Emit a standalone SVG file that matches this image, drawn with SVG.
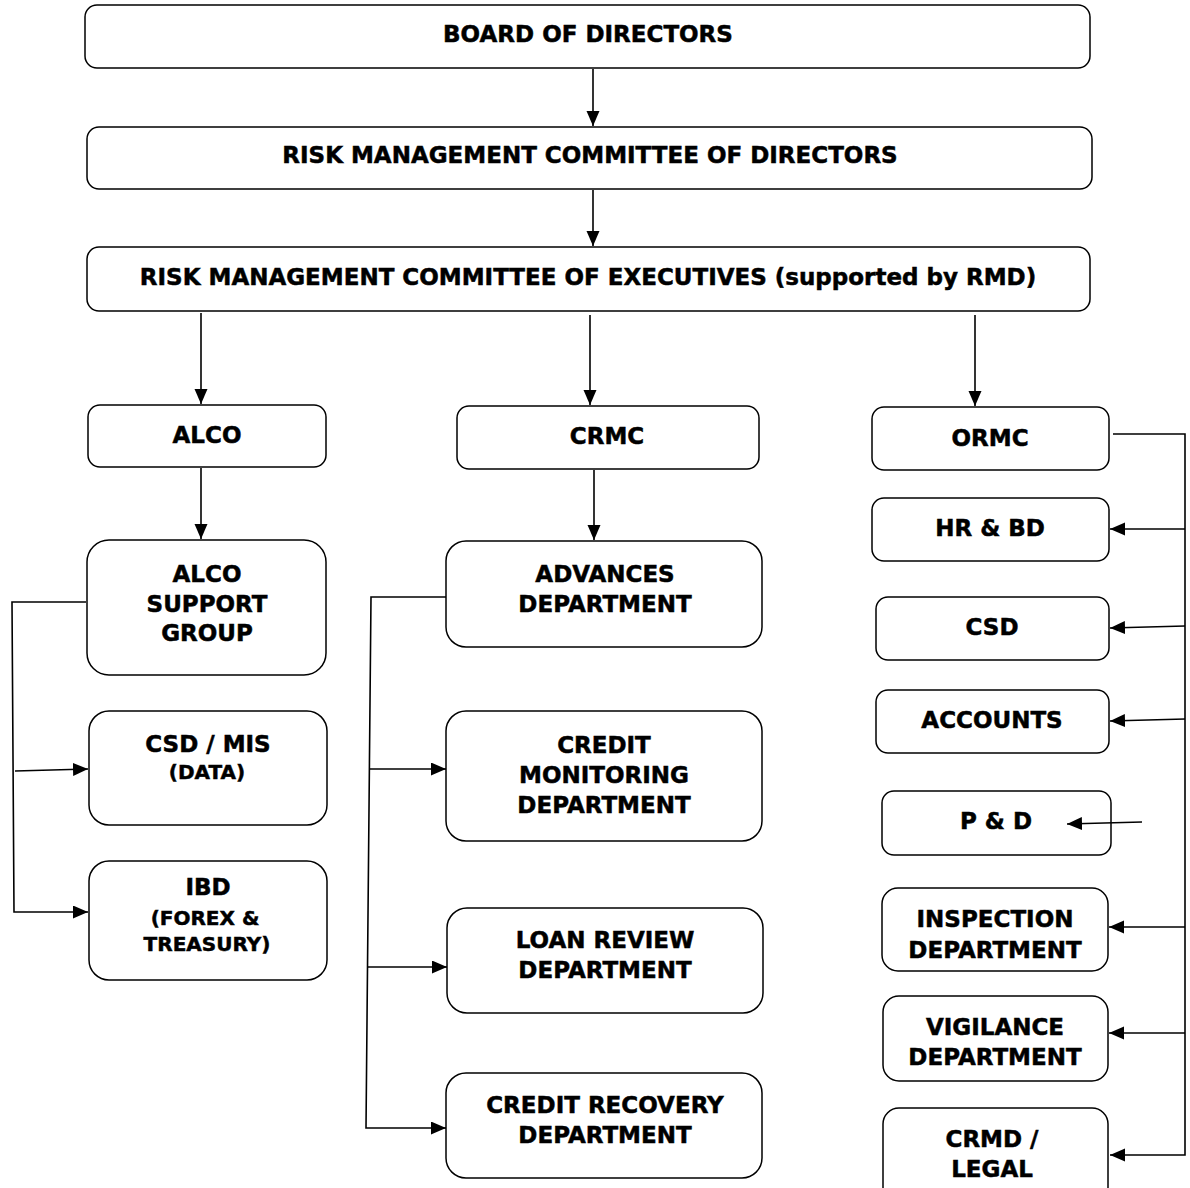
<svg xmlns="http://www.w3.org/2000/svg" width="1190" height="1188" viewBox="0 0 1190 1188">
<style>
.box{fill:#fff;stroke:#000;stroke-width:1.5}
.t{font-family:"DejaVu Sans","Verdana",sans-serif;font-weight:bold;font-size:23px;text-anchor:middle;fill:#000;stroke:#000;stroke-width:0.5}
.s{font-size:20px}
.c{fill:none;stroke:#000;stroke-width:1.6}
</style>
<defs>
<marker id="ah" markerUnits="userSpaceOnUse" markerWidth="16" markerHeight="14" refX="15" refY="6.5" orient="auto">
<path d="M0,0 L15,6.5 L0,13 z" fill="#000"/>
</marker>
</defs>
<rect width="1190" height="1188" fill="#fff"/>
<g id="board"><rect class="box" x="85" y="5" width="1005" height="63" rx="12"/><text class="t" x="588" y="42">BOARD OF DIRECTORS</text></g>
<g id="rmcd"><rect class="box" x="87" y="127" width="1005" height="62" rx="12"/><text class="t" x="590" y="163">RISK MANAGEMENT COMMITTEE OF DIRECTORS</text></g>
<g id="rmce"><rect class="box" x="87" y="247" width="1003" height="64" rx="12"/><text class="t" x="588" y="285">RISK MANAGEMENT COMMITTEE OF EXECUTIVES (supported by RMD)</text></g>
<g id="alco"><rect class="box" x="88" y="405" width="238" height="62" rx="12"/><text class="t" x="207" y="443">ALCO</text></g>
<g id="crmc"><rect class="box" x="457" y="406" width="302" height="63" rx="12"/><text class="t" x="607" y="444">CRMC</text></g>
<g id="ormc"><rect class="box" x="872" y="407" width="237" height="63" rx="12"/><text class="t" x="990" y="446">ORMC</text></g>
<g id="alcosg"><rect class="box" x="87" y="540" width="239" height="135" rx="22"/><text class="t" x="207" y="582">ALCO</text><text class="t" x="207" y="612">SUPPORT</text><text class="t" x="207" y="641">GROUP</text></g>
<g id="adv"><rect class="box" x="446" y="541" width="316" height="106" rx="20"/><text class="t" x="605" y="582">ADVANCES</text><text class="t" x="605" y="612">DEPARTMENT</text></g>
<g id="csdmis"><rect class="box" x="89" y="711" width="238" height="114" rx="20"/><text class="t" x="208" y="752">CSD / MIS</text><text class="t s" x="207" y="779">(DATA)</text></g>
<g id="ibd"><rect class="box" x="89" y="861" width="238" height="119" rx="20"/><text class="t" x="208" y="895">IBD</text><text class="t s" x="205" y="925">(FOREX &amp;</text><text class="t s" x="207" y="951">TREASURY)</text></g>
<g id="cmd"><rect class="box" x="446" y="711" width="316" height="130" rx="20"/><text class="t" x="604" y="753">CREDIT</text><text class="t" x="604" y="783">MONITORING</text><text class="t" x="604" y="813">DEPARTMENT</text></g>
<g id="lrd"><rect class="box" x="447" y="908" width="316" height="105" rx="20"/><text class="t" x="605" y="948">LOAN REVIEW</text><text class="t" x="605" y="978">DEPARTMENT</text></g>
<g id="crd"><rect class="box" x="446" y="1073" width="316" height="105" rx="20"/><text class="t" x="605" y="1113">CREDIT RECOVERY</text><text class="t" x="605" y="1143">DEPARTMENT</text></g>
<g id="hrbd"><rect class="box" x="872" y="498" width="237" height="63" rx="12"/><text class="t" x="990" y="536">HR &amp; BD</text></g>
<g id="csd"><rect class="box" x="876" y="597" width="233" height="63" rx="12"/><text class="t" x="992" y="635">CSD</text></g>
<g id="accounts"><rect class="box" x="876" y="690" width="233" height="63" rx="12"/><text class="t" x="992" y="728">ACCOUNTS</text></g>
<g id="pd"><rect class="box" x="882" y="791" width="229" height="64" rx="12"/><text class="t" x="996" y="829">P &amp; D</text></g>
<g id="insp"><rect class="box" x="882" y="888" width="226" height="83" rx="16"/><text class="t" x="995" y="927">INSPECTION</text><text class="t" x="995" y="958">DEPARTMENT</text></g>
<g id="vig"><rect class="box" x="883" y="996" width="225" height="85" rx="16"/><text class="t" x="995" y="1035">VIGILANCE</text><text class="t" x="995" y="1065">DEPARTMENT</text></g>
<g id="crmd"><rect class="box" x="883" y="1108" width="225" height="95" rx="16"/><text class="t" x="992" y="1147">CRMD /</text><text class="t" x="992" y="1177">LEGAL</text></g>
<g id="connectors">
<line class="c" x1="593" y1="69" x2="593" y2="126" marker-end="url(#ah)"/>
<line class="c" x1="593" y1="190" x2="593" y2="246" marker-end="url(#ah)"/>
<line class="c" x1="201" y1="313" x2="201" y2="404" marker-end="url(#ah)"/>
<line class="c" x1="590" y1="315" x2="590" y2="405" marker-end="url(#ah)"/>
<line class="c" x1="975" y1="315" x2="975" y2="406" marker-end="url(#ah)"/>
<line class="c" x1="201" y1="468" x2="201" y2="539" marker-end="url(#ah)"/>
<line class="c" x1="594" y1="470" x2="594" y2="540" marker-end="url(#ah)"/>
<polyline class="c" points="86,602 12,602 14,912 88,912" marker-end="url(#ah)"/>
<line class="c" x1="15" y1="771" x2="88" y2="769" marker-end="url(#ah)"/>
<polyline class="c" points="446,597 371,597 366,1128 446,1128" marker-end="url(#ah)"/>
<line class="c" x1="370" y1="769" x2="446" y2="769" marker-end="url(#ah)"/>
<line class="c" x1="368" y1="967" x2="447" y2="967" marker-end="url(#ah)"/>
<polyline class="c" points="1113,434 1185,434 1185,1155 1110,1155" marker-end="url(#ah)"/>
<line class="c" x1="1185" y1="529" x2="1110" y2="529" marker-end="url(#ah)"/>
<line class="c" x1="1185" y1="626" x2="1110" y2="628" marker-end="url(#ah)"/>
<line class="c" x1="1185" y1="719" x2="1110" y2="721" marker-end="url(#ah)"/>
<line class="c" x1="1142" y1="822" x2="1067" y2="824" marker-end="url(#ah)"/>
<line class="c" x1="1185" y1="927" x2="1109" y2="927" marker-end="url(#ah)"/>
<line class="c" x1="1185" y1="1033" x2="1109" y2="1033" marker-end="url(#ah)"/>
</g>
</svg>
